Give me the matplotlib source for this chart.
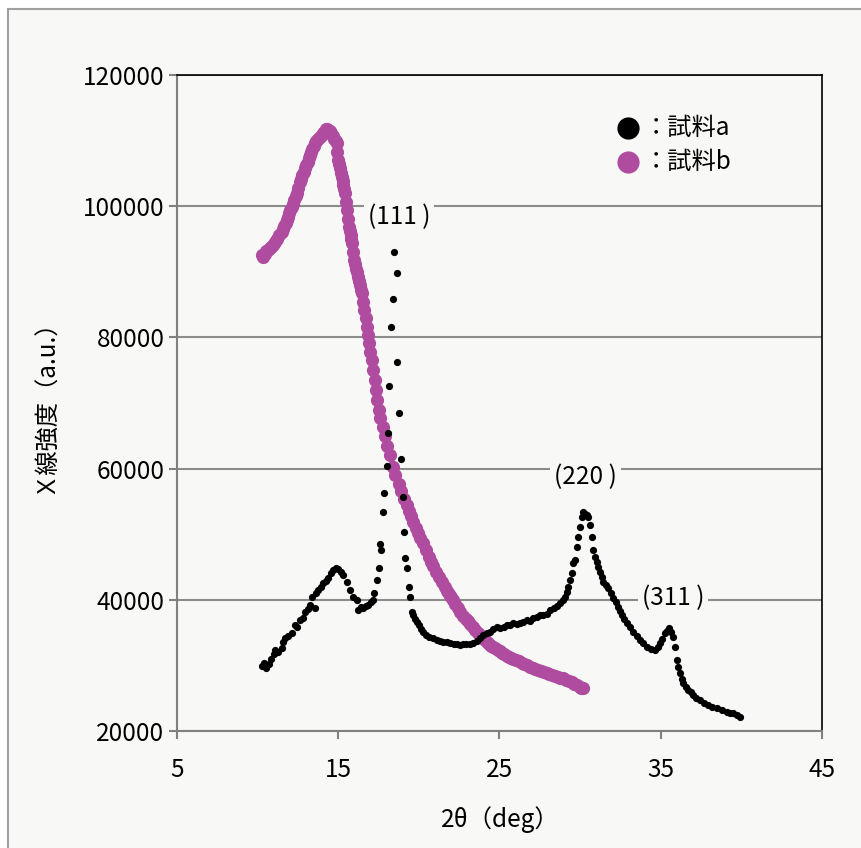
# -*- coding: utf-8 -*-
"""XRD patterns of sample a / sample b (2theta 10-40 deg)."""
import matplotlib
matplotlib.use('Agg')
import matplotlib.pyplot as plt
from matplotlib.lines import Line2D
from matplotlib.patches import Rectangle

plt.rcParams.update({
    'font.family': ['Noto Sans CJK JP', 'DejaVu Sans'],
    'font.size': 17.5,
})

# ── Data ──────────────────────────────────────────────────
two_theta_a = [
    10.25, 10.40, 10.55, 10.70, 10.85, 11.00, 11.08, 11.25, 11.49, 11.60,
    11.70, 11.90, 12.11, 12.32, 12.45, 12.63, 12.80, 12.94, 13.10, 13.25,
    13.35, 13.56, 13.65, 13.76, 13.92, 14.07, 14.22, 14.38, 14.55, 14.69,
    14.85, 15.00, 15.15, 15.31, 15.52, 15.73, 15.93, 16.14, 16.24, 16.40,
    16.55, 16.70, 16.86, 17.02, 17.17, 17.24, 17.38, 17.53, 17.62, 17.64,
    17.79, 17.84, 18.00, 18.08, 18.13, 18.25, 18.41, 18.46, 18.62, 18.66,
    18.79, 18.87, 19.00, 19.06, 19.12, 19.25, 19.41, 19.45, 19.56, 19.65,
    19.75, 19.87, 20.00, 20.15, 20.27, 20.45, 20.65, 20.90, 21.10, 21.30,
    21.50, 21.73, 21.95, 22.15, 22.35, 22.55, 22.75, 22.95, 23.15, 23.38,
    23.60, 23.80, 24.00, 24.20, 24.40, 24.60, 24.83, 25.03, 25.25, 25.45,
    25.65, 25.86, 26.07, 26.25, 26.45, 26.69, 26.90, 27.10, 27.30, 27.51,
    27.70, 27.93, 28.13, 28.35, 28.55, 28.75, 28.96, 29.07, 29.17, 29.27,
    29.37, 29.48, 29.58, 29.68, 29.79, 29.89, 29.99, 30.10, 30.20, 30.30,
    30.40, 30.51, 30.61, 30.72, 30.82, 30.92, 31.03, 31.13, 31.23, 31.34,
    31.44, 31.60, 31.75, 31.90, 32.06, 32.20, 32.37, 32.48, 32.58, 32.75,
    32.89, 33.10, 33.30, 33.50, 33.71, 33.90, 34.13, 34.40, 34.64, 34.80,
    34.95, 35.10, 35.26, 35.40, 35.53, 35.65, 35.78, 35.88, 35.99, 36.09,
    36.19, 36.30, 36.40, 36.55, 36.71, 36.85, 37.02, 37.20, 37.43, 37.70,
    37.95, 38.20, 38.47, 38.80, 39.09, 39.30, 39.50, 39.70, 39.91,
]
intensity_a = [
    29900, 30400, 29600, 30200, 30900, 31800, 32350, 32100, 32650, 33600,
    34180, 34500, 34940, 36160, 35800, 36920, 37300, 38190, 38600, 39210,
    40470, 38750, 41000, 41490, 42000, 42520, 42900, 43320, 44100, 44540,
    44900, 44700, 44200, 43780, 42760, 41490, 40470, 39970, 38450, 38900,
    38700, 39000, 39210, 39600, 39970, 41080, 43020, 44850, 48500, 47600,
    53430, 56240, 60400, 65380, 72590, 81590, 85850, 93020, 89820, 76250,
    68400, 61390, 55600, 50340, 46370, 44800, 42000, 40470, 38190, 37700,
    37100, 36660, 36100, 35600, 35140, 34700, 34400, 34130, 33900, 33700,
    33600, 33610, 33400, 33300, 33200, 33110, 33200, 33300, 33300, 33370,
    33700, 34200, 34630, 34900, 35100, 35500, 35900, 35660, 35900, 36100,
    36200, 36420, 36300, 36500, 36600, 36920, 36800, 37180, 37400, 37680,
    37700, 37900, 38450, 38700, 39000, 39470, 39970, 40500, 41200, 42000,
    43020, 44040, 45560, 46070, 48090, 49620, 51140, 52670, 53430, 53100,
    53000, 52670, 51400, 49620, 47590, 46500, 45810, 45000, 44280, 43500,
    42760, 42200, 41750, 41000, 40230, 39600, 38950, 38300, 37680, 37000,
    36420, 35800, 35140, 34500, 33870, 33400, 32850, 32500, 32350, 32800,
    33370, 34100, 34890, 35300, 35660, 35100, 34380, 32850, 30820, 29800,
    28800, 28000, 27270, 26700, 26250, 25900, 25490, 25100, 24730, 24300,
    23960, 23700, 23460, 23200, 22940, 22800, 22700, 22400, 22180,
]

two_theta_b = [
    10.25, 10.35, 10.45, 10.55, 10.65, 10.75, 10.85, 10.97, 11.08, 11.20,
    11.35, 11.49, 11.57, 11.65, 11.73, 11.80, 11.88, 11.95, 12.03, 12.11,
    12.19, 12.27, 12.35, 12.42, 12.53, 12.63, 12.70, 12.78, 12.86, 12.94,
    13.02, 13.10, 13.18, 13.25, 13.33, 13.40, 13.48, 13.56, 13.65, 13.75,
    13.85, 13.97, 14.06, 14.15, 14.22, 14.30, 14.38, 14.46, 14.55, 14.65,
    14.75, 14.83, 14.90, 14.95, 15.00, 15.05, 15.10, 15.16, 15.21, 15.27,
    15.32, 15.37, 15.42, 15.49, 15.56, 15.62, 15.67, 15.72, 15.76, 15.81,
    15.85, 15.93, 16.00, 16.05, 16.10, 16.15, 16.20, 16.26, 16.32, 16.38,
    16.45, 16.53, 16.62, 16.69, 16.76, 16.84, 16.91, 17.00, 17.07, 17.16,
    17.25, 17.33, 17.42, 17.52, 17.62, 17.75, 17.90, 18.05, 18.20, 18.38,
    18.55, 18.75, 18.90, 19.10, 19.25, 19.40, 19.53, 19.66, 19.80, 19.95,
    20.10, 20.24, 20.42, 20.60, 20.75, 20.90, 21.07, 21.25, 21.42, 21.60,
    21.75, 21.85, 21.98, 22.10, 22.25, 22.40, 22.58, 22.75, 22.90, 23.05,
    23.20, 23.35, 23.50, 23.65, 23.80, 23.95, 24.08, 24.20, 24.35, 24.50,
    24.62, 24.75, 24.90, 25.03, 25.15, 25.30, 25.45, 25.60, 25.73, 25.86,
    26.03, 26.20, 26.38, 26.55, 26.72, 26.89, 27.05, 27.20, 27.38, 27.55,
    27.75, 27.93, 28.10, 28.25, 28.42, 28.60, 28.78, 28.96, 29.13, 29.30,
    29.48, 29.65, 29.82, 29.99, 30.08, 30.15,
]
intensity_b = [
    92500, 92300, 92700, 93100, 93300, 93600, 93800, 94090, 94500, 95000,
    95600, 96110, 96600, 97000, 97400, 97900, 98400, 98900, 99400, 99920,
    100400, 100900, 101500, 101970, 102800, 103740, 104200, 104700, 105200, 105780,
    106300, 106800, 107300, 107810, 108300, 108700, 109200, 109590, 109900, 110200,
    110500, 110850, 111200, 111400, 111700, 111800, 111620, 111400, 111100, 110700,
    110300, 110000, 109590, 108300, 107040, 106400, 105800, 105100, 104500, 103800,
    103200, 102600, 101970, 100700, 99420, 98100, 96880, 96200, 95600, 95000,
    94350, 93000, 91800, 91200, 90500, 89900, 89250, 88600, 88000, 87300,
    86720, 85400, 84180, 82900, 81630, 80400, 79100, 77800, 76560, 75000,
    73500, 72000, 70460, 69000, 67700, 66400, 65000, 63500, 62000, 60290,
    59000, 57600, 56600, 55400, 54400, 53500, 52700, 51900, 51000, 50200,
    49400, 48600, 47600, 46600, 45800, 45100, 44300, 43520, 42700, 42000,
    41400, 40900, 40400, 39970, 39400, 38800, 38200, 37600, 37100, 36700,
    36300, 35900, 35400, 35000, 34600, 34200, 33900, 33610, 33300, 33000,
    32800, 32600, 32400, 32200, 31950, 31700, 31500, 31300, 31150, 31000,
    30800, 30600, 30400, 30200, 30000, 29800, 29600, 29400, 29250, 29100,
    28950, 28800, 28700, 28600, 28450, 28300, 28150, 28030, 27800, 27600,
    27400, 27200, 26950, 26750, 26600, 26500,
]

x_ticks = [5, 15, 25, 35, 45]
y_ticks = [20000, 40000, 60000, 80000, 100000, 120000]

peak_labels = ['(111 )', '(220 )', '(311 )']
peak_label_x = [18.77, 30.36, 35.76]
peak_label_y = [98350, 58770, 40270]

series_labels = ['：試料a', '：試料b']

BG = '#f8f9f6'
GRID = '#8c8c8c'
AXIS_GRAY = '#808080'
PURPLE = '#b04ca0'

W, H = 862, 848
fig = plt.figure(figsize=(W / 100, H / 100), dpi=100, facecolor='white')

# outer chart frame (only left/top edges visible in the crop)
fig.add_artist(Rectangle((8 / W, -0.1), 1.5, 1.1 - 9 / H,
                         transform=fig.transFigure, facecolor=BG,
                         edgecolor='#a0a0a0', linewidth=1.5, zorder=0))

ax = fig.add_axes([177 / W, 1 - 731 / H, 645 / W, 656 / H])
ax.set_facecolor(BG)

# ── Series ─────────────────────────────────────────────────
ax.plot(two_theta_b, intensity_b, linestyle='none', marker='o',
        markersize=9.5, color=PURPLE, markeredgewidth=0, zorder=3)
ax.plot(two_theta_a, intensity_a, linestyle='none', marker='o',
        markersize=5.2, color='black', markeredgewidth=0, zorder=4)

# ── Axes styling ───────────────────────────────────────────
ax.set_xlim(5, 45)
ax.set_ylim(20000, 120000)
ax.set_xticks(x_ticks)
ax.set_yticks(y_ticks)
ax.set_xticklabels([str(v) for v in x_ticks])
ax.set_yticklabels([str(v) for v in y_ticks])
ax.yaxis.grid(True, color=GRID, linewidth=1.5)
ax.set_axisbelow(True)

for side in ['left', 'bottom']:
    ax.spines[side].set_color(AXIS_GRAY)
    ax.spines[side].set_linewidth(1.5)
for side in ['top', 'right']:
    ax.spines[side].set_color('black')
    ax.spines[side].set_linewidth(1.2)

ax.tick_params(direction='out', length=6, width=1.5, color=AXIS_GRAY,
               labelsize=17.5, labelcolor='black')
ax.tick_params(axis='y', pad=3)
ax.tick_params(axis='x', pad=13)

# ── Peak labels ────────────────────────────────────────────
for txt, px, py in zip(peak_labels, peak_label_x, peak_label_y):
    ax.text(px, py, txt, ha='center', va='center', fontsize=17.5, zorder=5,
            bbox=dict(facecolor=BG, edgecolor='none', pad=3))

# ── Axis titles ────────────────────────────────────────────
fig.text(45 / W, 1 - 400 / H, 'Ｘ線強度（a.u.）', rotation=90,
         ha='center', va='center', fontsize=17.5)
fig.text(500 / W, 1 - 820 / H, '2θ（deg）', ha='center', va='center',
         fontsize=17.5)

# ── Legend (drawn by hand to match the reference placement) ─
for lbl, col, py in zip(series_labels, ['black', PURPLE], [128, 162]):
    fig.add_artist(Line2D([628 / W], [1 - py / H], transform=fig.transFigure,
                          marker='o', markersize=16, color=col,
                          markeredgewidth=0, linestyle='none'))
    fig.text(644 / W, 1 - py / H, lbl, ha='left', va='center', fontsize=17.5)

fig.savefig('out.png', dpi=100, facecolor=fig.get_facecolor())
